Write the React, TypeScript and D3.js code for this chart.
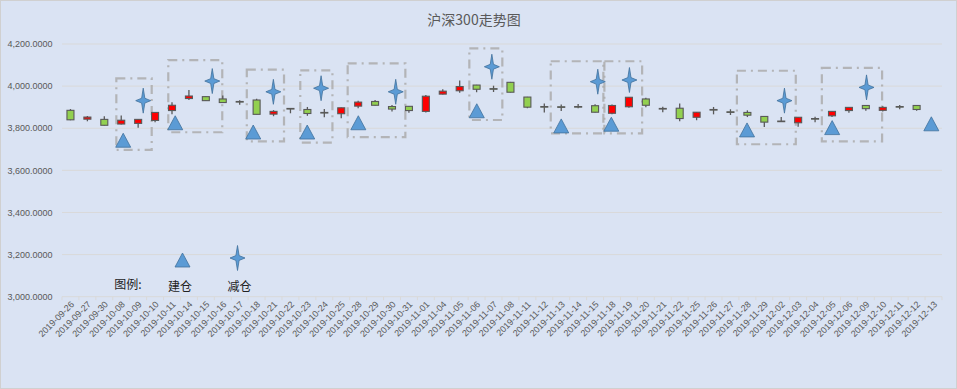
import React from "react";
import * as d3 from "d3";

const dates = [
  "2019-09-26","2019-09-27","2019-09-30","2019-10-08","2019-10-09","2019-10-10","2019-10-11","2019-10-14",
  "2019-10-15","2019-10-16","2019-10-17","2019-10-18","2019-10-21","2019-10-22","2019-10-23","2019-10-24",
  "2019-10-25","2019-10-28","2019-10-29","2019-10-30","2019-10-31","2019-11-01","2019-11-04","2019-11-05",
  "2019-11-06","2019-11-07","2019-11-08","2019-11-11","2019-11-12","2019-11-13","2019-11-14","2019-11-15",
  "2019-11-18","2019-11-19","2019-11-20","2019-11-21","2019-11-22","2019-11-25","2019-11-26","2019-11-27",
  "2019-11-28","2019-11-29","2019-12-02","2019-12-03","2019-12-04","2019-12-05","2019-12-06","2019-12-09",
  "2019-12-10","2019-12-11","2019-12-12","2019-12-13",
];

const openV = [3885,3843,3842,3820,3823,3837,3884,3941,3950,3939,3927,3934,3867,3894,3889,3875,3869,3905,3927,3903,3904,3880,3962,3978,4005,3988,4018,3948,3903,3902,3903,3907,3871,3902,3939,3894,3895,3852,3889,3878,3875,3856,3834,3826,3846,3859,3884,3908,3885,3903,3908];
const closeV = [3840,3853,3814,3838,3842,3875,3909,3953,3931,3922,3925,3866,3880,3893,3870,3873,3897,3924,3909,3891,3884,3952,3976,3998,3985,3986,3971,3900,3901,3900,3902,3876,3908,3947,3909,3892,3846,3876,3887,3876,3862,3829,3832,3852,3844,3880,3899,3893,3899,3901,3889];
const highV = [3891,3858,3857,3861,3843,3876,3923,3981,3951,3956,3933,3940,3886,3895,3901,3891,3899,3931,3934,3910,3905,3958,3985,4027,4006,4002,4020,3949,3918,3913,3915,3914,3913,3948,3945,3902,3918,3877,3901,3890,3885,3857,3853,3853,3855,3881,3900,3909,3904,3910,3909];
const lowV = [3838,3833,3813,3818,3802,3828,3866,3934,3929,3920,3912,3866,3857,3871,3859,3852,3847,3895,3908,3880,3874,3875,3960,3969,3971,3972,3970,3895,3875,3882,3895,3875,3866,3897,3900,3876,3833,3838,3866,3863,3853,3806,3831,3807,3828,3853,3874,3883,3879,3890,3883];

// 建仓 markers (position in category units, value)
const buyPos = [3.617, 6.69, 11.3, 14.49, 17.51, 24.51, 29.5, 32.46, 40.48, 45.51, 51.37];
const buyVal = [3743, 3826, 3782, 3782, 3826, 3883, 3811, 3819, 3792, 3803, 3821];
// 减仓 markers
const sellPos = [4.8, 8.88, 12.49, 15.31, 19.72, 25.4, 31.66, 33.53, 42.69, 47.54];
const sellVal = [3931, 4024, 3973, 3990, 3973, 4092, 4021, 4029, 3931, 3994];
// holding-period boxes
const boxStart = [3.21, 6.28, 10.92, 14.08, 16.88, 24.07, 28.88, 32.05, 39.88, 44.9];
const boxEnd = [5.3, 9.47, 13.12, 15.98, 20.29, 26.02, 31.99, 34.28, 43.36, 48.46];
const boxTop = [4037, 4123, 4078, 4075, 4108, 4179, 4118, 4118, 4073, 4087];
const boxBottom = [3697, 3781, 3738, 3732, 3758, 3839, 3776, 3776, 3724, 3738];

const yTicks = [3000, 3200, 3400, 3600, 3800, 4000, 4200];

const W = 957, H = 389;
const L = 62, R = 942, T = 44, B = 296.7;
const BG = "#dae3f3";
const TXT = "#595959";
const GRID = "#d9d9d9";
const UP = "#ff0000";
const DOWN = "#92d050";
const EDGE = "#595959";
const MARK = "#5b9bd5";
const MARKEDGE = "#41719c";

function starPath(cx: number, cy: number, w = 7.5, h = 12.5, iw = 1.6, ih = 2.4) {
  return `M${cx},${cy - h} L${cx + iw},${cy - ih} L${cx + w},${cy} L${cx + iw},${cy + ih} L${cx},${cy + h} L${cx - iw},${cy + ih} L${cx - w},${cy} L${cx - iw},${cy - ih} Z`;
}
function triPath(cx: number, cy: number, w = 7.5, h = 7) {
  return `M${cx},${cy - h} L${cx + w},${cy + h} L${cx - w},${cy + h} Z`;
}

export default function App() {
  const x = d3.scaleLinear().domain([0, dates.length]).range([L, R]);
  const y = d3.scaleLinear().domain([3000, 4200]).range([B, T]);
  const band = x(1) - x(0);
  const bw = 7;
  const fmt = d3.format(",.4f");

  return (
    <div style={{ position: "fixed", left: 0, top: 0 }}>
      <svg width={W} height={H} style={{ display: "block" }} fontFamily="'Liberation Sans', Arial, 'Noto Sans CJK SC', sans-serif">
        <rect x={0.5} y={0.5} width={W - 1} height={H - 1} fill={BG} stroke="#d0d0d0" />
        <text x={474} y={25} textAnchor="middle" fontSize={14} fill={TXT} fontFamily="'Noto Sans CJK SC', sans-serif">沪深300走势图</text>

        {yTicks.map((t) => (
          <g key={t}>
            <line x1={L} x2={R} y1={y(t)} y2={y(t)} stroke={GRID} strokeWidth={1} />
            <text x={52.5} y={y(t)} dy="0.35em" textAnchor="end" fontSize={9} fill={TXT}>{fmt(t)}</text>
          </g>
        ))}

        {d3.range(dates.length + 1).map((i) => (
          <line key={i} x1={x(i)} x2={x(i)} y1={B} y2={B + 3.5} stroke={GRID} />
        ))}
        {dates.map((d, i) => (
          <text key={d} transform={`translate(${x(i + 0.5) + 2},${B + 6}) rotate(-45)`} textAnchor="end" dy="0.35em" fontSize={9} fill={TXT}>{d}</text>
        ))}

        {boxStart.map((s, i) => (
          <rect key={i} x={x(s)} y={y(boxTop[i])} width={x(boxEnd[i]) - x(s)} height={y(boxBottom[i]) - y(boxTop[i])}
            fill="none" stroke="#ababab" strokeWidth={2.2} strokeDasharray="9,5,2,5" opacity={0.85} />
        ))}

        {openV.map((o, i) => {
          const c = closeV[i];
          const cx = x(i + 0.5);
          const top = y(Math.max(o, c));
          const bot = y(Math.min(o, c));
          return (
            <g key={i}>
              <line x1={cx} x2={cx} y1={y(highV[i])} y2={y(lowV[i])} stroke={EDGE} strokeWidth={1.3} />
              <rect x={cx - bw / 2} y={top} width={bw} height={Math.max(bot - top, 0.6)} fill={c > o ? UP : DOWN} stroke={EDGE} strokeWidth={1.1} />
            </g>
          );
        })}

        {buyPos.map((p, i) => (
          <path key={i} d={triPath(x(p), y(buyVal[i]))} fill={MARK} stroke={MARKEDGE} strokeWidth={0.8} />
        ))}
        {sellPos.map((p, i) => (
          <path key={i} d={starPath(x(p), y(sellVal[i]))} fill={MARK} stroke={MARKEDGE} strokeWidth={0.8} />
        ))}

        <text x={128} y={289} textAnchor="middle" fontSize={12} fill="#222" fontFamily="'Noto Sans CJK SC', sans-serif">图例:</text>
        <path d={triPath(182.5, 260)} fill={MARK} stroke={MARKEDGE} strokeWidth={0.8} />
        <text x={180} y={291} textAnchor="middle" fontSize={12} fill="#222" fontFamily="'Noto Sans CJK SC', sans-serif">建仓</text>
        <path d={starPath(237.5, 258)} fill={MARK} stroke={MARKEDGE} strokeWidth={0.8} />
        <text x={239.5} y={291} textAnchor="middle" fontSize={12} fill="#222" fontFamily="'Noto Sans CJK SC', sans-serif">减仓</text>
      </svg>
    </div>
  );
}
